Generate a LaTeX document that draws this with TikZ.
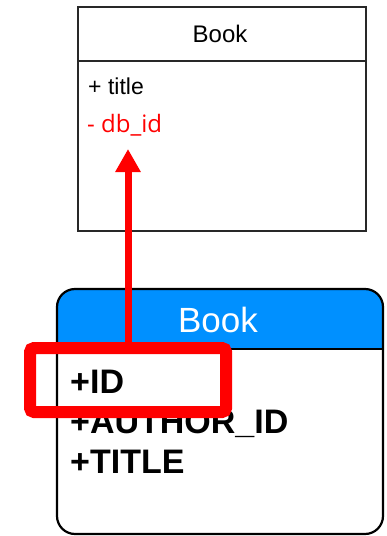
\documentclass[tikz,border=0pt]{standalone}
\usepackage{fontspec}
\setmainfont{Liberation Sans}
\newfontfamily\redfont{Open Sans}
\usetikzlibrary{arrows.meta}
\definecolor{hdrblue}{RGB}{0,144,255}
\definecolor{boxgray}{RGB}{40,40,40}
\definecolor{hired}{RGB}{255,0,0}
\begin{document}
\begin{tikzpicture}[x=1pt,y=-1pt,
  lbl/.style={inner sep=0pt,anchor=base west},
  ttl/.style={inner sep=0pt,anchor=base},
  hilite/.style={draw=hired,line width=12pt,rounded corners=4pt,minimum width=196pt,minimum height=64pt,inner sep=0pt},
  link/.style={draw=hired,line width=7pt,-{Triangle[width=24pt,length=23pt]}}]
\useasboundingbox (0,0) rectangle (387,536);
% top class box
\node[draw=boxgray,line width=1.6pt,minimum width=288pt,minimum height=224pt,inner sep=0pt] (top) at (222,119) {};
\draw[boxgray,line width=1.6pt] (78,61) -- (366,61);
\node[ttl,font=\fontsize{24}{28}\selectfont] (toptitle) at (220,42) {Book};
\node[lbl,font=\fontsize{23}{27}\selectfont] (ttitle) at (88,94) {+ title};
\node[lbl,text=hired,font=\redfont\fontsize{24}{28}\selectfont] (dbid) at (87,132) {- db\_id};
\coordinate (tip) at (128,149);
% bottom table box
\begin{scope}
\clip[rounded corners=18pt] (57,289) rectangle (383,534);
\fill[hdrblue] (57,289) rectangle (383,349);
\end{scope}
\node[draw=black,line width=2.2pt,rounded corners=18pt,minimum width=326pt,minimum height=245pt,inner sep=0pt] (bot) at (220,411.5) {};
\draw[black,line width=1.6pt] (57,349) -- (383,349);
\node[ttl,text=white,font=\fontsize{35}{40}\selectfont] (bottitle) at (218,332) {Book};
\node[lbl,font=\bfseries\fontsize{34}{39}\selectfont] (rid) at (70,393) {+ID};
\node[lbl,font=\bfseries\fontsize{34}{39}\selectfont] (rauth) at (70,433) {+AUTHOR\_ID};
\node[lbl,font=\bfseries\fontsize{34}{39}\selectfont] (rtitle) at (70,473) {+TITLE};
% highlight and arrow
\node[hilite] (idbox) at (128,380) {};
\draw[link] (idbox.north) -- (tip);
\end{tikzpicture}
\end{document}
